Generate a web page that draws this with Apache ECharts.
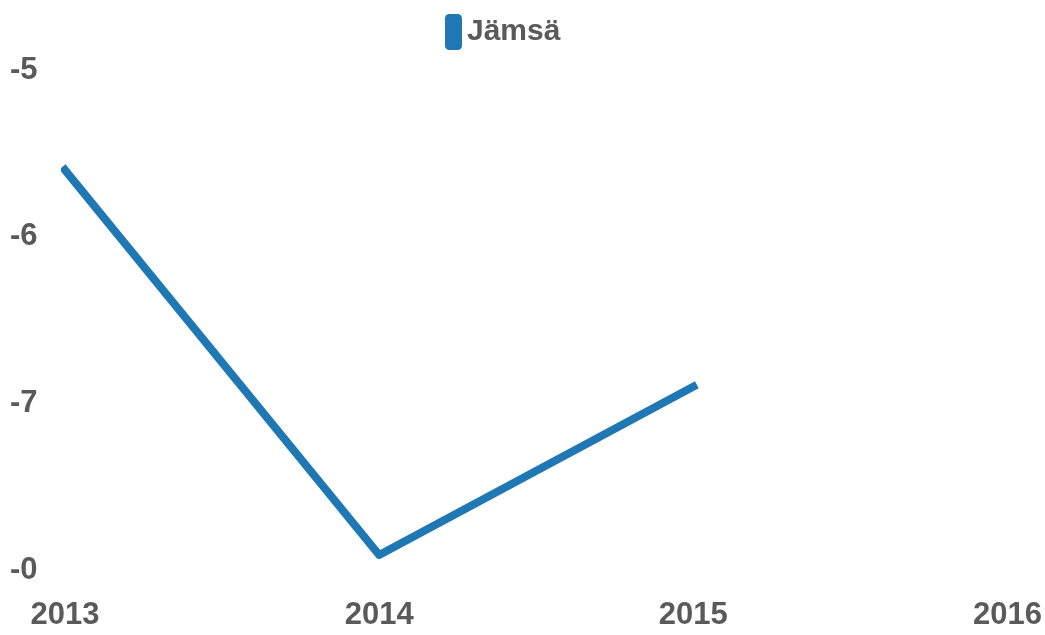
<!DOCTYPE html>
<html><head><meta charset="utf-8">
<script src="https://cdn.jsdelivr.net/npm/echarts@6/dist/echarts.min.js"></script>
<style>html,body{margin:0;padding:0;background:#fff}#c{width:1045px;height:635px}</style>
</head><body><div id="c"></div>
<script>
const categories = ['2013', '2014', '2015', '2016'];
const seriesName = 'Jämsä';
const values = [-5.6, -7.91, -6.9, null];
const yTicks = [-8, -7, -6, -5];
const yTickLabels = {'-5': '-5', '-6': '-6', '-7': '-7', '-8': '-0'};

const chart = echarts.init(document.getElementById('c'));
chart.setOption({
  animation: false,
  legend: {
    data: [seriesName], top: 9, left: 440,
    itemWidth: 17, itemHeight: 36, itemGap: 12,
    icon: 'roundRect',
    textStyle: {color: '#5a5a5a', fontSize: 30, fontFamily: 'Liberation Sans, Arial', fontWeight: 'bold'}
  },
  grid: {left: 65, right: 35, top: 70, bottom: 65, containLabel: false},
  xAxis: {
    type: 'category', data: categories, boundaryGap: false,
    axisLine: {show: false}, axisTick: {show: false}, splitLine: {show: false},
    axisLabel: {color: '#5a5a5a', fontSize: 31, fontWeight: 'bold', fontFamily: 'Liberation Sans, Arial', margin: 30}
  },
  yAxis: {
    type: 'value', min: yTicks[0], max: yTicks[yTicks.length - 1], interval: 1,
    axisLine: {show: false}, axisTick: {show: false}, splitLine: {show: false},
    axisLabel: {
      color: '#5a5a5a', fontSize: 31, fontWeight: 'bold', fontFamily: 'Liberation Sans, Arial',
      align: 'left', margin: 55,
      formatter: v => yTickLabels[String(v)] ?? String(v)
    }
  },
  series: [{
    name: seriesName, type: 'line', data: values,
    showSymbol: false, symbol: 'rect',
    itemStyle: {color: '#1f77b4'},
    lineStyle: {color: '#1f77b4', width: 8, cap: 'square', join: 'round'}
  }]
});
</script></body></html>
